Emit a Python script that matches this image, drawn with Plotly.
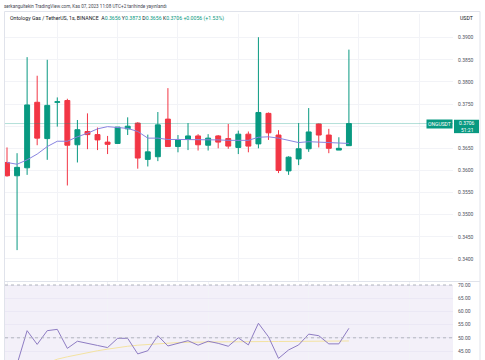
import plotly.graph_objects as go

# ---- data ----
opens = [0.3618, 0.3588, 0.3606, 0.3754, 0.3672, 0.3754, 0.3758, 0.3658, 0.3688, 0.3681,
         0.3664, 0.3661, 0.3694, 0.3707, 0.3625, 0.3631, 0.3716, 0.3654, 0.3670, 0.3678,
         0.3657, 0.3678, 0.3672, 0.3652, 0.3682, 0.3660, 0.3729, 0.3680, 0.3599, 0.3626,
         0.3649, 0.3705, 0.3680, 0.3646, 0.3656]
highs = [0.3652, 0.3639, 0.3856, 0.3814, 0.3850, 0.3765, 0.3762, 0.3714, 0.3729, 0.3697,
         0.3678, 0.3698, 0.3720, 0.3709, 0.3681, 0.3732, 0.3786, 0.3680, 0.3707, 0.3682,
         0.3682, 0.3680, 0.3705, 0.3690, 0.3688, 0.3901, 0.3731, 0.3691, 0.3632, 0.3707,
         0.3741, 0.3706, 0.3694, 0.3675, 0.3873]
lows = [0.3586, 0.3420, 0.3590, 0.3657, 0.3624, 0.3699, 0.3566, 0.3618, 0.3648, 0.3646,
        0.3637, 0.3660, 0.3680, 0.3604, 0.3609, 0.3621, 0.3654, 0.3641, 0.3646, 0.3645,
        0.3645, 0.3650, 0.3649, 0.3637, 0.3641, 0.3650, 0.3669, 0.3594, 0.3590, 0.3612,
        0.3642, 0.3652, 0.3639, 0.3646, 0.3656]
closes = [0.3588, 0.3607, 0.3748, 0.3673, 0.3747, 0.3755, 0.3657, 0.3692, 0.3681, 0.3669,
          0.3659, 0.3698, 0.3700, 0.3628, 0.3642, 0.3703, 0.3654, 0.3670, 0.3678, 0.3658,
          0.3673, 0.3664, 0.3655, 0.3682, 0.3655, 0.3731, 0.3685, 0.3600, 0.3630, 0.3649,
          0.3687, 0.3680, 0.3650, 0.3650, 0.3706]
ma_values = [0.3618, 0.3614, 0.3624, 0.3637, 0.3654, 0.3666, 0.3666, 0.3676, 0.3684, 0.3694,
             0.3699, 0.3697, 0.3695, 0.3688, 0.3673, 0.3673, 0.3670, 0.3670, 0.3670, 0.3669,
             0.3669, 0.3669, 0.3668, 0.3668, 0.3668, 0.3675, 0.3676, 0.3673, 0.3668, 0.3663,
             0.3665, 0.3664, 0.3664, 0.3662, 0.3661]
rsi_values = [None, 40.0, 52.7, 47.5, 52.7, 53.2, 46.0, 48.7, 48.0, 47.1,
              46.3, 49.8, 49.8, 43.9, 45.1, 50.8, 46.9, 47.9, 48.9, 47.2,
              48.7, 47.9, 46.8, 50.0, 47.3, 55.5, 50.4, 42.2, 45.4, 47.3,
              51.4, 50.8, 47.7, 47.7, 53.6]
rsi_ma_values = [None, None, None, None, 40.5, 41.9, 42.8, 43.6, 44.4, 45.1,
                 45.7, 46.3, 46.8, 47.2, 47.5, 47.8, 48.0, 48.2, 48.3, 48.4,
                 48.5, 48.5, 48.5, 48.5, 48.6, 48.6, 48.6, 48.6, 48.6, 48.6,
                 48.7, 48.7, 48.7, 48.7, 48.8]
# 0.3700 is hidden behind the last-price label in the reference
price_ticks = [0.3400, 0.3450, 0.3500, 0.3550, 0.3600, 0.3650, 0.3700, 0.3750, 0.3800, 0.3850, 0.3900]
price_tick_text = ["0.3400", "0.3450", "0.3500", "0.3550", "0.3600", "0.3650", "",
                   "0.3750", "0.3800", "0.3850", "0.3900"]
rsi_ticks = [45, 50, 55, 60, 65, 70]
last_price = 0.3706
countdown = "51:21"
x = list(range(len(opens)))

GREEN = "#089981"
RED = "#f23645"
FONT = "Roboto"

fig = go.Figure()
fig.add_trace(go.Candlestick(
    x=x, open=opens, high=highs, low=lows, close=closes,
    increasing=dict(line=dict(color=GREEN, width=1), fillcolor=GREEN),
    decreasing=dict(line=dict(color=RED, width=1), fillcolor=RED),
    whiskerwidth=0, xaxis="x", yaxis="y", showlegend=False, hoverinfo="skip"))
fig.add_trace(go.Scatter(x=x, y=ma_values, mode="lines",
                         line=dict(color="#8884e0", width=1), xaxis="x", yaxis="y",
                         showlegend=False, hoverinfo="skip"))
fig.add_trace(go.Scatter(x=x, y=rsi_ma_values, mode="lines",
                         line=dict(color="#f4e3a2", width=1), xaxis="x2", yaxis="y2",
                         showlegend=False, hoverinfo="skip"))
fig.add_trace(go.Scatter(x=x, y=rsi_values, mode="lines",
                         line=dict(color="#8e7cc3", width=1), xaxis="x2", yaxis="y2",
                         showlegend=False, hoverinfo="skip"))

W, H = 485, 360
L, R, T, B = 5, 32, 14, 0
PW, PH = W - L - R, H - T - B


def px(xp):
    return (xp - L) / PW


def py(yp):
    return 1 - (yp - T) / PH


main_dom = [py(281), 1]
rsi_dom = [0, py(282)]

grid = "#f2f3f7"
fig.update_layout(
    width=W, height=H, margin=dict(l=L, r=R, t=T, b=B, autoexpand=False),
    paper_bgcolor="white", plot_bgcolor="white",
    font=dict(family=FONT, size=5, color="#50535e"),
    xaxis=dict(domain=[0, 1], range=[-0.2, 44.35], rangeslider=dict(visible=False),
               showticklabels=False, showgrid=True, gridcolor=grid, gridwidth=1,
               tick0=5, dtick=6, zeroline=False, anchor="y", automargin=False),
    yaxis=dict(domain=main_dom, range=[0.33502, 0.39535], side="right",
               tickvals=price_ticks, ticktext=price_tick_text, showgrid=True, gridcolor=grid,
               zeroline=False, ticks="", ticklabelstandoff=4, automargin=False,
               tickfont=dict(size=5, color="#50535e"), anchor="x"),
    xaxis2=dict(domain=[0, 1], matches="x", showticklabels=False, showgrid=True,
                gridcolor=grid, zeroline=False, anchor="y2", automargin=False),
    yaxis2=dict(domain=rsi_dom, range=[41.59, 71.14], side="right", tickvals=rsi_ticks,
                tickformat=".2f", showgrid=True, gridcolor="#ebe8f5", zeroline=False,
                ticks="", ticklabelstandoff=4, tickfont=dict(size=5, color="#50535e"),
                anchor="x2", automargin=False),
)

shapes = []
# RSI band
shapes.append(dict(type="rect", xref="x2 domain", yref="y2", x0=0, x1=1, y0=30, y1=70,
                   fillcolor="rgba(126,87,194,0.09)", line=dict(width=0), layer="below"))
for lvl in (70, 50):
    shapes.append(dict(type="line", xref="x2 domain", yref="y2", x0=0, x1=1, y0=lvl, y1=lvl,
                       line=dict(color="#b2b5be", width=1, dash="dot")))
# current price line
shapes.append(dict(type="line", xref="x domain", yref="y", x0=0, x1=1, y0=last_price,
                   y1=last_price, line=dict(color="rgba(8,153,129,0.3)", width=1)))
# price label box on the axis
shapes.append(dict(type="rect", xref="paper", yref="y", ysizemode="pixel", yanchor=last_price,
                   x0=px(454), x1=px(479), y0=3.8, y1=-9.6, fillcolor=GREEN,
                   line=dict(width=0)))
# panel separator
shapes.append(dict(type="line", xref="paper", yref="paper", x0=px(5), x1=px(480),
                   y0=py(281.5), y1=py(281.5), line=dict(color="#e0e3eb", width=1)))
# frame
shapes.append(dict(type="rect", xref="paper", yref="paper", x0=px(4.5), x1=px(480),
                   y0=py(362), y1=py(11.5), line=dict(color="#e0e3eb", width=1)))
fig.update_layout(shapes=shapes)

anns = []
anns.append(dict(xref="paper", yref="paper", x=px(2), y=py(6.5), xanchor="left",
                 yanchor="middle", showarrow=False,
                 text="serkangultekin TradingView.com, Kas 07, 2023 11:08 UTC+2 tarihinde yayınlandı",
                 font=dict(size=4.6, color="#434651")))


def g(s):
    return f'<span style="color:{GREEN}">{s}</span>'


title = ("Ontology Gas / TetherUS, 1s, BINANCE  A" + g(f"{opens[-1]:.4f}") + " Y" + g(f"{highs[-1]:.4f}")
         + " D" + g(f"{lows[-1]:.4f}") + " K" + g(f"{closes[-1]:.4f}") + " "
         + g(f"+{closes[-1]-closes[-2]:.4f} (+{(closes[-1]-closes[-2])/closes[-2]*100:.2f}%)"))
anns.append(dict(xref="paper", yref="paper", x=px(8), y=py(18.5), xanchor="left",
                 yanchor="middle", showarrow=False, text=title,
                 font=dict(size=5.2, color="#131722")))
anns.append(dict(xref="paper", yref="paper", x=px(466), y=py(18.5), xanchor="center",
                 yanchor="middle", showarrow=False, text="USDT",
                 font=dict(size=5.2, color="#131722")))
anns.append(dict(xref="paper", yref="y", x=px(466.5), y=last_price, xanchor="center",
                 yanchor="middle", yshift=0.4, showarrow=False, borderpad=0,
                 text=f"{last_price:.4f}", font=dict(size=5, color="white")))
anns.append(dict(xref="paper", yref="y", x=px(466.5), y=last_price, xanchor="center",
                 yanchor="middle", yshift=-6.4, showarrow=False, borderpad=0,
                 text=countdown, font=dict(size=5, color="white")))
anns.append(dict(xref="paper", yref="y", x=px(439), y=last_price, xanchor="center",
                 yanchor="middle", showarrow=False, text="ONGUSDT", bgcolor=GREEN,
                 font=dict(size=5, color="white"), borderpad=1))
fig.update_layout(annotations=anns)

fig.write_html("out.html", config={"displayModeBar": False},
               post_script="document.body.style.margin='0px';")
